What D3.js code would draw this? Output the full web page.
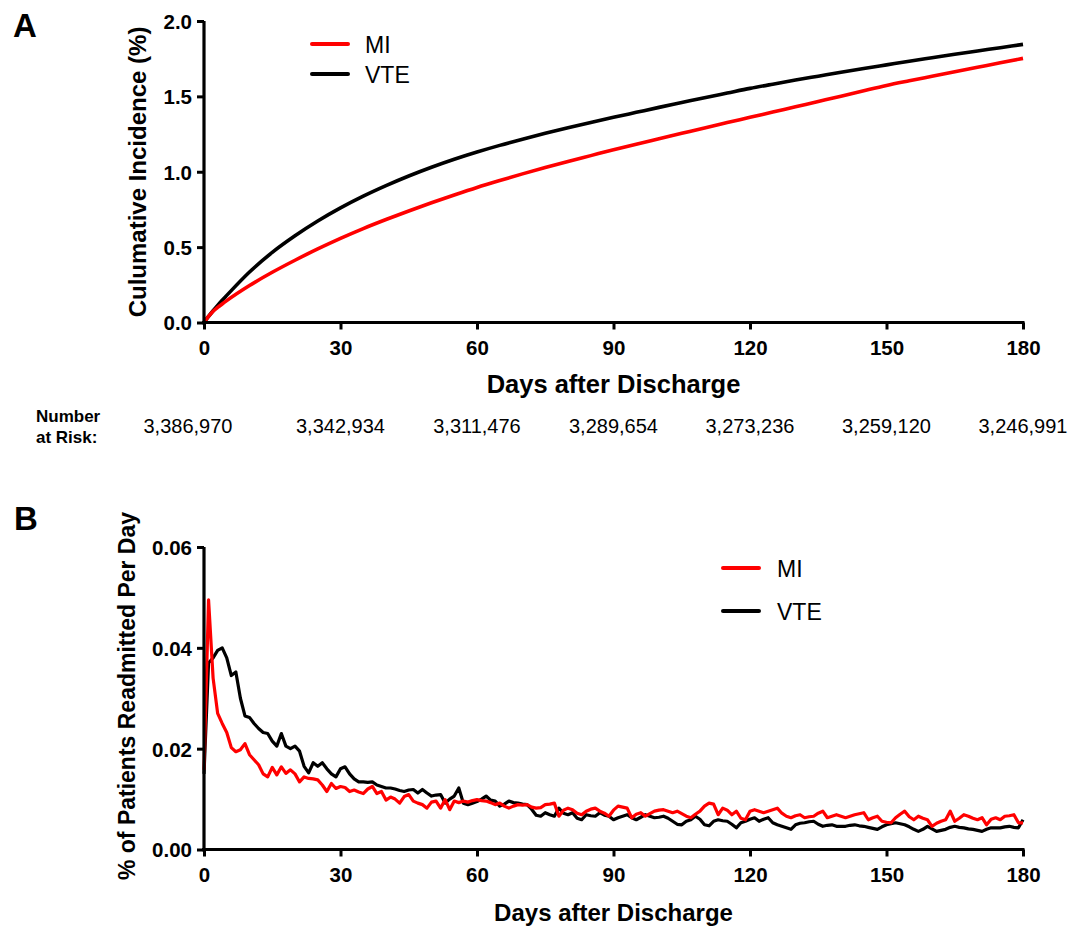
<!DOCTYPE html>
<html>
<head>
<meta charset="utf-8">
<script src="https://cdn.jsdelivr.net/npm/d3@7"></script>
<style>
  html, body { margin: 0; padding: 0; background: #fff; }
  svg { display: block; font-family: "Liberation Sans", Arial, Helvetica, sans-serif; }
</style>
</head>
<body>
<svg id="chart" width="1080" height="927"></svg>
<script>
// ---------- DATA ----------
const seriesNames = ["MI", "VTE"];
const xTicks = [0, 30, 60, 90, 120, 150, 180];
const yTicksA = [0, 0.5, 1.0, 1.5, 2.0];
const yTicksB = [0, 0.02, 0.04, 0.06];
const numberAtRisk = ["3,386,970", "3,342,934", "3,311,476", "3,289,654", "3,273,236", "3,259,120", "3,246,991"];

// Panel A: cumulative incidence (%) read at these days
const daysA = [0, 1, 2, 3, 4, 5, 10, 15, 20, 25, 30, 35, 40, 45, 50, 55, 60, 65, 70, 75, 80, 85, 90,
  95, 100, 105, 110, 115, 120, 125, 130, 135, 140, 145, 150, 155, 160, 165, 170, 175, 180];
const cumMI = [0, 0.040, 0.075, 0.100, 0.123, 0.145, 0.245, 0.333, 0.413, 0.488, 0.558, 0.623, 0.683, 0.740,
  0.794, 0.846, 0.896, 0.942, 0.986, 1.028, 1.068, 1.107, 1.146, 1.183, 1.219, 1.255, 1.291, 1.326, 1.361,
  1.396, 1.431, 1.466, 1.501, 1.537, 1.572, 1.603, 1.633, 1.663, 1.693, 1.723, 1.752];
const cumVTE = [0, 0.040, 0.078, 0.114, 0.148, 0.180, 0.335, 0.465, 0.575, 0.673, 0.760, 0.838, 0.908, 0.972,
  1.030, 1.083, 1.131, 1.175, 1.216, 1.255, 1.292, 1.327, 1.361, 1.394, 1.427, 1.459, 1.491, 1.522, 1.553,
  1.581, 1.608, 1.634, 1.660, 1.685, 1.709, 1.733, 1.756, 1.779, 1.801, 1.823, 1.845];

// Panel B: % of patients readmitted per day, days 0..180
const dailyMI = [
  0.0158, 0.0495, 0.0340, 0.0270, 0.0250, 0.0232, 0.0202, 0.0194, 0.0198, 0.0210,
  0.0188, 0.0178, 0.0168, 0.0150, 0.0144, 0.0163, 0.0148, 0.0164, 0.0151, 0.0158,
  0.0150, 0.0134, 0.0144, 0.0141, 0.0140, 0.0138, 0.0128, 0.0115, 0.0131, 0.0121,
  0.0125, 0.0123, 0.0115, 0.0118, 0.0114, 0.0111, 0.0120, 0.0125, 0.0111, 0.0115,
  0.0098, 0.0104, 0.0100, 0.0092, 0.0105, 0.0109, 0.0096, 0.0092, 0.0089, 0.0082,
  0.0094, 0.0096, 0.0082, 0.0099, 0.0079, 0.0096, 0.0093, 0.0096, 0.0094, 0.0097,
  0.0099, 0.0097, 0.0096, 0.0093, 0.0089, 0.0092, 0.0086, 0.0082, 0.0086, 0.0089,
  0.0088, 0.0089, 0.0084, 0.0082, 0.0083, 0.0089, 0.0090, 0.0092, 0.0066, 0.0078,
  0.0082, 0.0079, 0.0072, 0.0069, 0.0076, 0.0080, 0.0082, 0.0076, 0.0072, 0.0066,
  0.0078, 0.0086, 0.0084, 0.0082, 0.0063, 0.0070, 0.0073, 0.0066, 0.0071, 0.0076,
  0.0078, 0.0079, 0.0076, 0.0073, 0.0076, 0.0071, 0.0066, 0.0063, 0.0070, 0.0076,
  0.0086, 0.0092, 0.0090, 0.0069, 0.0082, 0.0078, 0.0069, 0.0076, 0.0062, 0.0059,
  0.0076, 0.0079, 0.0076, 0.0073, 0.0076, 0.0079, 0.0082, 0.0072, 0.0066, 0.0063,
  0.0067, 0.0069, 0.0063, 0.0065, 0.0066, 0.0072, 0.0076, 0.0063, 0.0066, 0.0069,
  0.0066, 0.0063, 0.0066, 0.0069, 0.0071, 0.0073, 0.0059, 0.0063, 0.0066, 0.0056,
  0.0054, 0.0053, 0.0063, 0.0070, 0.0076, 0.0065, 0.0059, 0.0066, 0.0062, 0.0059,
  0.0046, 0.0052, 0.0056, 0.0059, 0.0076, 0.0056, 0.0062, 0.0069, 0.0066, 0.0062,
  0.0059, 0.0063, 0.0049, 0.0060, 0.0063, 0.0059, 0.0066, 0.0067, 0.0069, 0.0053,
  0.0053
];
const dailyVTE = [
  0.0150, 0.0370, 0.0380, 0.0395, 0.0400, 0.0380, 0.0345, 0.0352, 0.0300, 0.0265,
  0.0262, 0.0250, 0.0240, 0.0232, 0.0230, 0.0215, 0.0205, 0.0230, 0.0205, 0.0200,
  0.0205, 0.0195, 0.0165, 0.0152, 0.0172, 0.0165, 0.0172, 0.0160, 0.0150, 0.0144,
  0.0160, 0.0164, 0.0150, 0.0140, 0.0134, 0.0134, 0.0133, 0.0134, 0.0128, 0.0125,
  0.0122, 0.0122, 0.0120, 0.0117, 0.0115, 0.0118, 0.0119, 0.0112, 0.0119, 0.0112,
  0.0106, 0.0108, 0.0109, 0.0092, 0.0100, 0.0106, 0.0122, 0.0092, 0.0089, 0.0092,
  0.0095, 0.0100, 0.0106, 0.0098, 0.0096, 0.0086, 0.0090, 0.0096, 0.0093, 0.0092,
  0.0090, 0.0089, 0.0080, 0.0068, 0.0066, 0.0073, 0.0069, 0.0066, 0.0082, 0.0072,
  0.0069, 0.0073, 0.0062, 0.0059, 0.0069, 0.0067, 0.0066, 0.0073, 0.0068, 0.0066,
  0.0059, 0.0063, 0.0066, 0.0069, 0.0063, 0.0059, 0.0064, 0.0069, 0.0066, 0.0063,
  0.0064, 0.0066, 0.0062, 0.0056, 0.0050, 0.0049, 0.0056, 0.0059, 0.0066, 0.0060,
  0.0049, 0.0047, 0.0056, 0.0059, 0.0057, 0.0056, 0.0050, 0.0043, 0.0053, 0.0056,
  0.0060, 0.0063, 0.0056, 0.0060, 0.0063, 0.0053, 0.0049, 0.0046, 0.0043, 0.0040,
  0.0049, 0.0052, 0.0053, 0.0055, 0.0056, 0.0050, 0.0046, 0.0048, 0.0049, 0.0046,
  0.0046, 0.0046, 0.0048, 0.0049, 0.0047, 0.0046, 0.0044, 0.0042, 0.0040, 0.0045,
  0.0049, 0.0051, 0.0053, 0.0051, 0.0049, 0.0045, 0.0040, 0.0036, 0.0040, 0.0046,
  0.0041, 0.0036, 0.0038, 0.0040, 0.0044, 0.0046, 0.0044, 0.0043, 0.0041, 0.0040,
  0.0038, 0.0036, 0.0040, 0.0043, 0.0043, 0.0043, 0.0045, 0.0046, 0.0044, 0.0043,
  0.0059
];

// ---------- DRAW ----------
const colors = { MI: "#ff0000", VTE: "#000000" };
const svg = d3.select("#chart");
const font = '"Liberation Sans", Arial, Helvetica, sans-serif';

const X0 = 204, X1 = 1023;

function drawAxes(g, x, y, yTicks, yFmt) {
  const xa = g.append("g").attr("transform", `translate(0,${y.range()[0]})`)
    .call(d3.axisBottom(x).tickValues(xTicks).tickSize(7).tickSizeOuter(0).tickPadding(8));
  const ya = g.append("g").attr("transform", `translate(${X0},0)`)
    .call(d3.axisLeft(y).tickValues(yTicks).tickFormat(d3.format(yFmt)).tickSize(7).tickSizeOuter(0).tickPadding(5));
  [xa, ya].forEach(a => {
    a.selectAll("path.domain").attr("stroke", "#000").attr("stroke-width", 3.2);
    a.selectAll(".tick line").attr("stroke", "#000").attr("stroke-width", 3);
    a.selectAll(".tick text").attr("fill", "#000").style("font-family", font)
      .style("font-weight", "bold").style("font-size", "20.5px");
  });
  xa.select("path.domain").attr("d", `M${X0 - 2},0H${X1 + 1.5}`);
  ya.select("path.domain").attr("d", `M0,${y.range()[1]}V${y.range()[0] + 2}`);
  xa.selectAll(".tick text").attr("dy", "0.85em");
  ya.selectAll(".tick text").attr("dy", "0.36em");
}

// ---- Panel A ----
const xA = d3.scaleLinear().domain([0, 180]).range([X0, X1]);
const yA = d3.scaleLinear().domain([0, 2]).range([322.5, 21]);
const gA = svg.append("g");

const lineA = d3.line().x((d, i) => xA(daysA[i])).y(d => yA(d)).curve(d3.curveMonotoneX);
gA.append("path").datum(cumVTE).attr("d", lineA).attr("fill", "none")
  .attr("stroke", colors.VTE).attr("stroke-width", 3.6).attr("stroke-linejoin", "round");
gA.append("path").datum(cumMI).attr("d", lineA).attr("fill", "none")
  .attr("stroke", colors.MI).attr("stroke-width", 3.6).attr("stroke-linejoin", "round");
drawAxes(gA, xA, yA, yTicksA, ".1f");

svg.append("text").attr("x", 13).attr("y", 37).text("A")
  .style("font-family", font).style("font-weight", "bold").style("font-size", "33px");
svg.append("text").attr("transform", `translate(146,172) rotate(-90)`).attr("text-anchor", "middle")
  .text("Culumative Incidence (%)").style("font-family", font).style("font-weight", "bold").style("font-size", "24px");
svg.append("text").attr("x", (X0 + X1) / 2).attr("y", 393).attr("text-anchor", "middle")
  .text("Days after Discharge").style("font-family", font).style("font-weight", "bold").style("font-size", "25.5px");

// legend A
seriesNames.forEach((s, i) => {
  const ly = 44 + i * 30;
  svg.append("line").attr("x1", 312).attr("x2", 348).attr("y1", ly).attr("y2", ly)
    .attr("stroke", colors[s]).attr("stroke-width", 4).attr("stroke-linecap", "round");
  svg.append("text").attr("x", 365).attr("y", ly + 9).text(s)
    .style("font-family", font).style("font-size", "23px").attr("fill", "#000");
});

// number at risk
svg.append("text").attr("x", 36).attr("y", 422).text("Number")
  .style("font-family", font).style("font-weight", "bold").style("font-size", "17px");
svg.append("text").attr("x", 36).attr("y", 443).text("at Risk:")
  .style("font-family", font).style("font-weight", "bold").style("font-size", "17px");
svg.selectAll("text.nar").data(numberAtRisk).enter().append("text").attr("class", "nar")
  .attr("x", (d, i) => xA(xTicks[i]) - (i === 0 ? 16 : 0)).attr("y", 433).attr("text-anchor", "middle").text(d => d)
  .style("font-family", font).style("font-size", "20px");

// ---- Panel B ----
const xB = d3.scaleLinear().domain([0, 180]).range([X0, X1]);
const yB = d3.scaleLinear().domain([0, 0.06]).range([849.5, 547]);
const gB = svg.append("g");
const lineB = d3.line().x((d, i) => xB(i)).y(d => yB(d));
gB.append("path").datum(dailyVTE).attr("d", lineB).attr("fill", "none")
  .attr("stroke", colors.VTE).attr("stroke-width", 3.2).attr("stroke-linejoin", "round");
gB.append("path").datum(dailyMI).attr("d", lineB).attr("fill", "none")
  .attr("stroke", colors.MI).attr("stroke-width", 3.2).attr("stroke-linejoin", "round");
drawAxes(gB, xB, yB, yTicksB, ".2f");

svg.append("text").attr("x", 14).attr("y", 530).text("B")
  .style("font-family", font).style("font-weight", "bold").style("font-size", "33px");
svg.append("text").attr("transform", `translate(135,696) rotate(-90)`).attr("text-anchor", "middle")
  .text("% of Patients Readmitted Per Day").style("font-family", font).style("font-weight", "bold").style("font-size", "23px");
svg.append("text").attr("x", (X0 + X1) / 2).attr("y", 921).attr("text-anchor", "middle")
  .text("Days after Discharge").style("font-family", font).style("font-weight", "bold").style("font-size", "24px");

seriesNames.forEach((s, i) => {
  const ly = 568 + i * 43;
  svg.append("line").attr("x1", 723).attr("x2", 759).attr("y1", ly).attr("y2", ly)
    .attr("stroke", colors[s]).attr("stroke-width", 4).attr("stroke-linecap", "round");
  svg.append("text").attr("x", 777).attr("y", ly + 9).text(s)
    .style("font-family", font).style("font-size", "23px").attr("fill", "#000");
});
</script>
</body>
</html>
